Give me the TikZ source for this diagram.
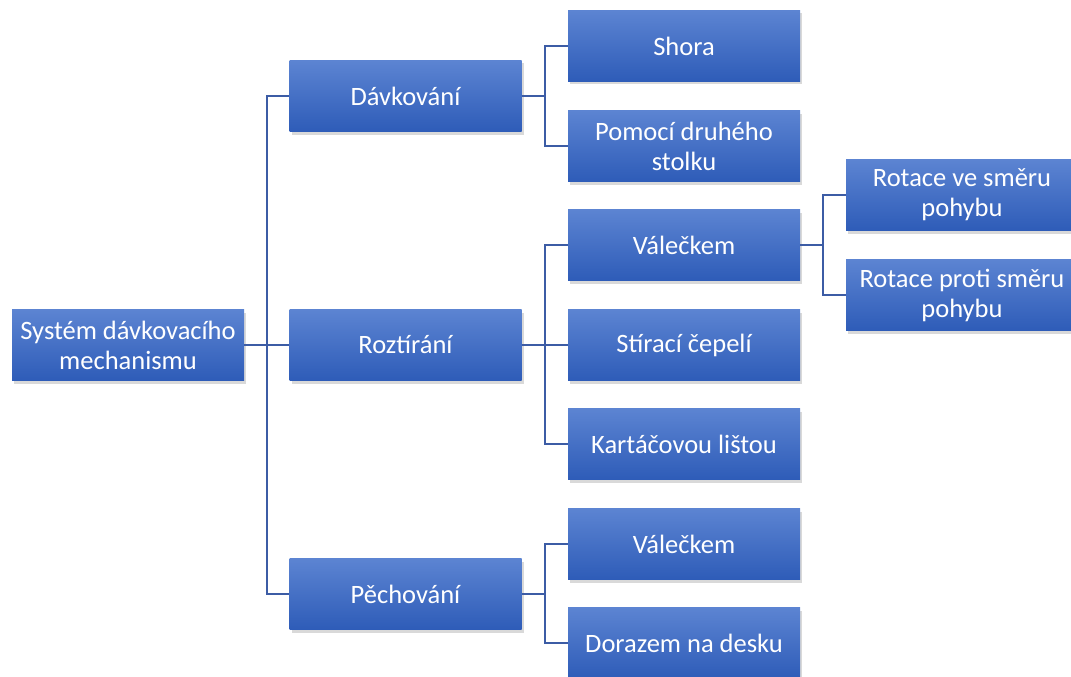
\documentclass[tikz,border=0pt]{standalone}
\usepackage{fontspec}
\setmainfont{Carlito}
\usetikzlibrary{shadows}
\definecolor{boxtop}{RGB}{92,132,210}
\definecolor{boxbot}{RGB}{46,92,184}
\definecolor{linec}{RGB}{60,92,165}
\begin{document}
\begin{tikzpicture}[x=1pt,y=-1pt,
  box/.style={rectangle, minimum width=232pt, minimum height=71pt, top color=boxtop, bottom color=boxbot, text=white, align=center, font=\fontsize{26.5}{30}\selectfont, inner sep=0pt, drop shadow={shadow xshift=2pt,shadow yshift=-3pt,opacity=0.3}},
  conn/.style={draw=linec, line width=2.5pt}]
\useasboundingbox (0,0) rectangle (1071,677);
\node[box] (root) at (128,345) {Systém dávkovacího\\mechanismu};
\node[box] (a) at (405.5,96) {Dávkování};
\node[box] (b) at (405.5,345) {Roztírání};
\node[box] (c) at (405.5,594) {Pěchování};
\node[box] (a1) at (684,46) {Shora};
\node[box] (a2) at (684,146) {Pomocí druhého\\stolku};
\node[box] (b1) at (684,245) {Válečkem};
\node[box] (b2) at (684,345) {Stírací čepelí};
\node[box] (b3) at (684,444) {Kartáčovou lištou};
\node[box] (c1) at (684,544) {Válečkem};
\node[box] (c2) at (684,643) {Dorazem na desku};
\node[box] (v1) at (962,195) {Rotace ve směru\\pohybu};
\node[box] (v2) at (962,295) {Rotace proti směru\\pohybu};
\foreach \t in {a,b,c} \draw[conn] (root.east) -- ++(23,0) |- (\t.west);
\foreach \t in {a1,a2} \draw[conn] (a.east) -- ++(23.5,0) |- (\t.west);
\foreach \t in {b1,b2,b3} \draw[conn] (b.east) -- ++(23.5,0) |- (\t.west);
\foreach \t in {c1,c2} \draw[conn] (c.east) -- ++(23.5,0) |- (\t.west);
\foreach \t in {v1,v2} \draw[conn] (b1.east) -- ++(23,0) |- (\t.west);
\end{tikzpicture}
\end{document}
